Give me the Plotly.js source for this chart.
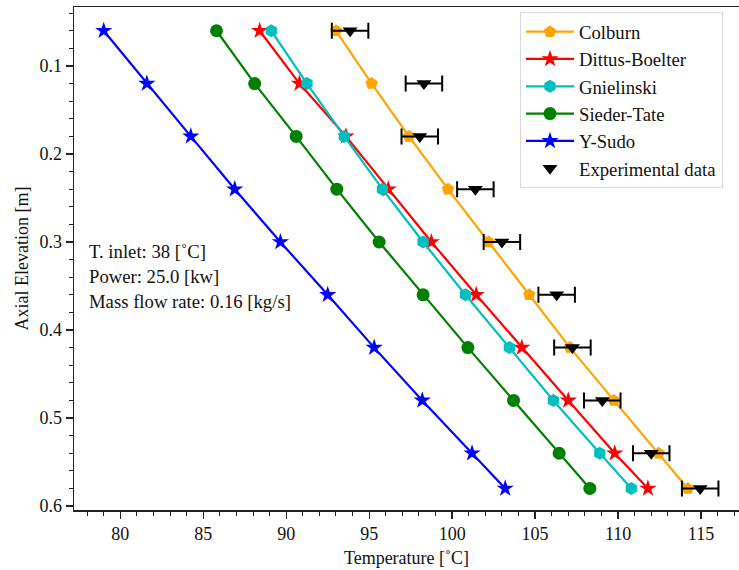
<!DOCTYPE html>
<html>
<head>
<meta charset="utf-8">
<script src="https://cdn.plot.ly/plotly-3.0.1.min.js"></script>
<style>body{margin:0;padding:0;background:#fff}#chart{width:739px;height:570px}</style>
</head>
<body>
<div id="chart"></div>
<script>
const elevation = [0.06, 0.12, 0.18, 0.24, 0.30, 0.36, 0.42, 0.48, 0.54, 0.58];
const colburn = [93.0, 95.15, 97.4, 99.75, 102.2, 104.65, 107.1, 109.75, 112.45, 114.2];
const dittusBoelter = [88.4, 90.8, 93.6, 96.15, 98.75, 101.45, 104.2, 107.0, 109.8, 111.8];
const gnielinski = [89.1, 91.25, 93.5, 95.8, 98.25, 100.8, 103.45, 106.1, 108.9, 110.8];
const siederTate = [85.8, 88.1, 90.6, 93.05, 95.6, 98.25, 100.95, 103.7, 106.45, 108.3];
const ySudo = [79.0, 81.6, 84.25, 86.9, 89.65, 92.5, 95.3, 98.2, 101.2, 103.2];
const experimental = [93.85, 98.3, 98.05, 101.4, 103.0, 106.3, 107.25, 109.05, 112.0, 114.95];
const experimentalErr = [1.1, 1.1, 1.1, 1.1, 1.1, 1.1, 1.1, 1.1, 1.1, 1.1];
const infoLines = ["T. inlet: 38 [˚C]", "Power: 25.0 [kw]", "Mass flow rate: 0.16 [kg/s]"];

const FONT = "Liberation Serif, Times New Roman, serif";
function model(name, xs, color, symbol, size) {
  return {x: xs, y: elevation, name: name, type: 'scatter', mode: 'lines+markers',
    line: {color: color, width: 2.2},
    marker: {color: color, symbol: symbol, size: size, line: {width: 0}}};
}
const traces = [
  model('Colburn', colburn, '#FFA500', 'pentagon', 13),
  model('Dittus-Boelter', dittusBoelter, '#FF0000', 'star', 13),
  model('Gnielinski', gnielinski, '#00BFBF', 'hexagon', 13),
  model('Sieder-Tate', siederTate, '#008000', 'circle', 13),
  model('Y-Sudo', ySudo, '#0000FF', 'star', 13),
  {x: experimental, y: elevation, name: 'Experimental data', type: 'scatter', mode: 'markers',
    marker: {color: '#000', symbol: 'triangle-down', size: 13},
    error_x: {type: 'data', array: experimentalErr, visible: true, color: '#000', thickness: 2, width: 8}}
];
const ys = [251, 276, 301];
const annotations = infoLines.map((t, i) => ({
  text: t, xref: 'paper', yref: 'paper', x: (87 - 74) / 665, y: 1 - (ys[i] - 7) / 503,
  xanchor: 'left', yanchor: 'middle', showarrow: false, font: {family: FONT, size: 18.7, color: '#111'}
}));
const layout = {
  width: 739, height: 570,
  margin: {l: 74, r: 0, t: 7, b: 60},
  paper_bgcolor: '#fff', plot_bgcolor: '#fff',
  font: {family: FONT, size: 18, color: '#111'},
  showlegend: true,
  legend: {x: (520 - 74) / 665, y: 1 - (12 - 7) / 503, xanchor: 'left', yanchor: 'top',
    bgcolor: 'rgba(255,255,255,0.9)', bordercolor: '#d8d8d8', borderwidth: 1, itemwidth: 48,
    font: {family: FONT, size: 18.7, color: '#111'}},
  xaxis: {range: [77.21, 117.29], showgrid: false, zeroline: false, showline: true, mirror: true,
    linecolor: '#222', linewidth: 1.5, ticks: 'outside', ticklen: 7, tickwidth: 1.3, tickcolor: '#222',
    dtick: 5, tick0: 80, tickfont: {family: FONT, size: 18},
    minor: {dtick: 1, ticks: 'outside', ticklen: 4, tickwidth: 1, tickcolor: '#222'},
    title: {text: 'Temperature [˚C]', font: {family: FONT, size: 18}, standoff: 8}},
  yaxis: {range: [0.6045, 0.033], showgrid: false, zeroline: false, showline: true, mirror: false,
    linecolor: '#222', linewidth: 1.5, ticks: 'outside', ticklen: 7, tickwidth: 1.3, tickcolor: '#222',
    tickvals: [0.1, 0.2, 0.3, 0.4, 0.5, 0.6], ticktext: ['0.1', '0.2', '0.3', '0.4', '0.5', '0.6'],
    tickfont: {family: FONT, size: 18},
    minor: {dtick: 0.02, tick0: 0, ticks: 'outside', ticklen: 4, tickwidth: 1, tickcolor: '#222'},
    title: {text: 'Axial Elevation [m]', font: {family: FONT, size: 18}, standoff: 6}},
  annotations: annotations
};
Plotly.newPlot('chart', traces, layout, {displayModeBar: false, staticPlot: true});
</script>
</body>
</html>
